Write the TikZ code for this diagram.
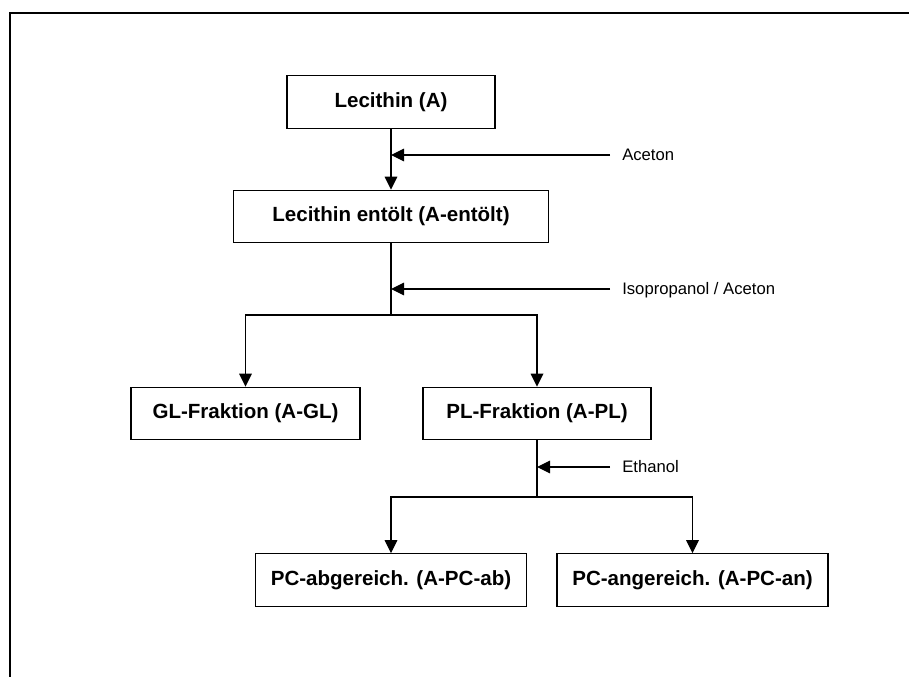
\documentclass[tikz,border=0pt]{standalone}
\usepackage{fontspec}
\setmainfont{Liberation Sans}
\usepackage{tikz}
\usetikzlibrary{arrows.meta}

\begin{document}
\begin{tikzpicture}[x=0.75pt, y=-0.75pt,
    stufe/.style={draw, line width=0.9pt, minimum height=39.4pt, inner sep=0pt,
      font=\fontsize{15.4}{18}\selectfont\bfseries},
    mittel/.style={anchor=west, inner xsep=9pt, inner ysep=0pt,
      text height=8.9pt, text depth=0pt, font=\fontsize{12.5}{15}\selectfont},
    pfeil/.style={line width=0.9pt, -{Triangle[length=9.75pt, width=9.5pt]}},
    strich/.style={line width=0.9pt}]
        \useasboundingbox (0,0) rectangle (909,677);
        \draw [line width=1.6pt] (909,13) -- (10,13) -- (10,677);
        % Stufen
        \node [stufe, minimum width=156pt] (A) at (391,102) {Lecithin (A)};
        \node [stufe, minimum width=236.25pt] (E) at (391,216.5) {Lecithin entölt (A-entölt)};
        \node [stufe, minimum width=171.75pt] (GL) at (245.5,413.5) {GL-Fraktion (A-GL)};
        \node [stufe, minimum width=171pt] (PL) at (537,413.5) {PL-Fraktion (A-PL)};
        \node [stufe, minimum width=203.25pt] (PCab) at (391,580) {PC-abgereich. (A-PC-ab)};
        \node [stufe, minimum width=203.25pt] (PCan) at (692.5,580) {PC-angereich. (A-PC-an)};
        % Loesungsmittel
        \node [mittel] (aceton) at (610,155) {Aceton};
        \node [mittel] (isoprop) at (610,289) {Isopropanol / Aceton};
        \node [mittel] (ethanol) at (610,467) {Ethanol};
        \coordinate (teil1) at (391,315);
        \coordinate (teil2) at (537,497);
        \draw [pfeil] (A) -- (E);
        \draw [pfeil] (aceton.west) -- (aceton.west -| A.south);
        \draw [strich] (E) -- (teil1);
        \draw [pfeil] (isoprop.west) -- (isoprop.west -| E.south);
        \draw [pfeil] (teil1) -| (GL.north);
        \draw [pfeil] (teil1) -| (PL.north);
        \draw [strich] (PL) -- (teil2);
        \draw [pfeil] (ethanol.west) -- (ethanol.west -| PL.south);
        \draw [pfeil] (teil2) -| (PCab.north);
        \draw [pfeil] (teil2) -| (PCan.north);
      \end{tikzpicture}
\end{document}
